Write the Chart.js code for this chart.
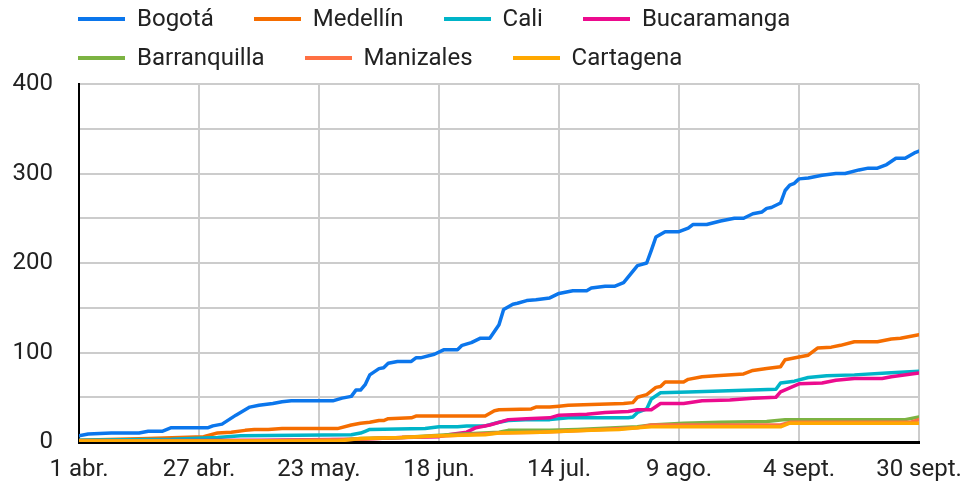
<!DOCTYPE html>
<html>
<head>
<meta charset="utf-8">
<script src="https://cdn.jsdelivr.net/npm/chart.js@4"></script>
<style>
    html, body { margin: 0; padding: 0; background: #fff; }
    #wrap { position: relative; width: 964px; height: 486px; }
    #legend {
        position: absolute; left: 78px; top: -1px; width: 886px;
        display: flex; flex-wrap: wrap;
        font: 24px Roboto; line-height: 39px; color: #222;
    }
    .item { display: flex; align-items: center; margin-right: 40px; white-space: nowrap; }
    .swatch { width: 47px; height: 4px; margin-right: 12px; }
</style>
</head>
<body>
<div id="wrap">
    <canvas id="chart" width="964" height="486"></canvas>
    <div id="legend"></div>
</div>
<script>
// dias desde el 1 de abril, cada 26 dias una etiqueta
const tickLabels = ['1 abr.', '27 abr.', '23 may.', '18 jun.', '14 jul.', '9 ago.', '4 sept.', '30 sept.'];
const seriesNames = ['Bogotá', 'Medellín', 'Cali', 'Bucaramanga', 'Barranquilla', 'Manizales', 'Cartagena'];
const seriesColors = ['#0b76ec', '#f56d00', '#00b4c8', '#ec0b8e', '#7cb342', '#ff7043', '#ffa800'];

// [dia, valor]
const bogota = [[0,7],[2,9],[7,10],[13,10],[15,12],[18,12],[20,16],[28,16],[29,18],[31,20],[34,30],[35,33],[37,39],[39,41],[42,43],[44,45],[46,46],[55,46],[57,49],[59,51],[60,58],[61,58],[62,64],[63,75],[65,82],[66,83],[67,88],[69,90],[72,90],[73,94],[74,94],[77,98],[79,103],[82,103],[83,108],[85,111],[87,116],[89,116],[91,131],[92,148],[94,154],[95,155],[97,158],[99,159],[102,161],[104,166],[107,169],[110,169],[111,172],[114,174],[116,174],[118,178],[121,197],[123,200],[124,214],[125,229],[127,235],[130,235],[132,239],[133,243],[136,243],[139,247],[142,250],[144,250],[146,255],[148,257],[149,261],[150,262],[152,267],[153,281],[154,287],[155,289],[156,294],[158,295],[161,298],[164,300],[166,300],[169,304],[171,306],[173,306],[175,310],[177,317],[179,317],[181,323],[182,325]];
const medellin = [[0,2],[15,4],[27,6],[30,10],[33,11],[36,13],[38,14],[41,14],[44,15],[56,15],[59,19],[61,21],[63,22],[65,24],[66,24],[67,26],[72,27],[73,29],[88,29],[90,35],[91,36],[98,37],[99,39],[102,39],[104,40],[106,41],[111,42],[118,43],[120,44],[121,50],[123,53],[125,61],[126,62],[127,67],[131,67],[132,70],[135,73],[138,74],[144,76],[146,80],[149,82],[152,84],[153,92],[156,95],[158,97],[160,105],[163,106],[165,108],[168,112],[173,112],[176,115],[178,116],[182,120]];
const cali = [[0,2],[20,3],[30,5],[35,7],[59,8],[61,10],[62,12],[63,14],[75,15],[78,17],[82,17],[84,18],[88,18],[91,22],[93,24],[98,25],[102,25],[106,27],[119,27],[120,28],[121,33],[123,37],[124,48],[126,55],[132,56],[139,57],[151,59],[152,66],[155,68],[158,72],[162,74],[168,75],[175,77],[182,79]];
const bucaramanga = [[0,1],[40,2],[60,3],[70,5],[78,6],[80,8],[84,11],[86,16],[89,19],[91,22],[93,25],[97,26],[102,27],[104,30],[110,31],[114,33],[119,34],[121,36],[124,36],[126,43],[131,43],[135,46],[141,47],[146,49],[151,50],[152,56],[156,65],[161,66],[164,69],[168,71],[174,71],[176,73],[182,77]];
const barranquilla = [[0,1],[30,1],[56,2],[61,4],[70,5],[80,8],[91,11],[93,13],[102,13],[108,14],[121,17],[124,19],[131,21],[139,22],[149,23],[153,25],[179,25],[182,28]];
const manizales = [[0,1],[40,1],[60,3],[70,5],[80,7],[91,10],[100,11],[110,13],[121,16],[124,19],[152,19],[154,22],[180,22],[182,25]];
const cartagena = [[0,1],[30,1],[56,1],[61,4],[70,5],[78,7],[88,8],[91,10],[100,11],[111,13],[117,14],[121,16],[124,17],[152,17],[154,21],[182,21]];

const seriesData = [bogota, medellin, cali, bucaramanga, barranquilla, manizales, cartagena];

const gridColor = (ctx) => ctx.tick && ctx.tick.value === 0 ? 'rgba(0,0,0,0)' : '#cccccc';

const datasets = seriesData.map((serie, i) => ({
    label: seriesNames[i],
    data: serie.map(p => ({ x: p[0], y: p[1] })),
    borderColor: seriesColors[i],
    backgroundColor: seriesColors[i],
    order: -i
}));

const chart = new Chart(document.getElementById('chart'), {
    type: 'line',
    data: { datasets: datasets },
    options: {
        responsive: false,
        animation: false,
        layout: { padding: { top: 84, right: 45, left: 0, bottom: 0 } },
        plugins: {
            legend: { display: false },
            tooltip: { enabled: false }
        },
        elements: {
            point: { radius: 0 },
            line: { borderWidth: 3.5, tension: 0, borderJoinStyle: 'round', borderCapStyle: 'round' }
        },
        scales: {
            x: {
                type: 'linear',
                min: 0,
                max: 182,
                afterFit: (s) => { s.height = 44; s.paddingLeft = 0; s.paddingRight = 0; },
                grid: { color: gridColor, lineWidth: 2, drawTicks: false },
                border: { color: '#000', width: 3 },
                ticks: {
                    stepSize: 26,
                    autoSkip: false,
                    maxRotation: 0,
                    padding: 14,
                    color: '#222',
                    font: { family: 'Roboto', size: 24 },
                    callback: (v) => tickLabels[Math.round(v / 26)]
                }
            },
            y: {
                min: 0,
                max: 400,
                afterFit: (s) => { s.width = 79; },
                grid: { color: gridColor, lineWidth: 2, drawTicks: false },
                border: { color: '#000', width: 2 },
                ticks: {
                    stepSize: 50,
                    padding: 26,
                    color: '#222',
                    font: { family: 'Roboto', size: 24 },
                    callback: (v) => v % 100 === 0 ? v : ''
                }
            }
        }
    }
});

// leyenda en html
let html = '';
chart.data.datasets.forEach(function (ds) {
    html += `<div class="item"><span class="swatch" style="background:${ds.borderColor}"></span>${ds.label}</div>`;
});
document.getElementById('legend').innerHTML = html;
</script>
</body>
</html>
